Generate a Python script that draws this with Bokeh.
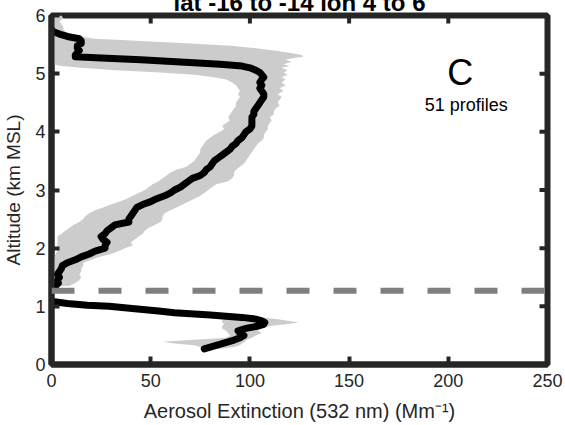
import math
from bokeh.plotting import figure
from bokeh.models import Range1d, FixedTicker, Span, Label
from bokeh.embed import file_html
from bokeh.resources import INLINE

NaN = math.nan

# ---- data ----
x_ticks = [0, 50, 100, 150, 200, 250]
y_ticks = [0, 1, 2, 3, 4, 5, 6]
title_text = "lat -16 to -14 lon 4 to 6"
panel_letter = "C"
profile_note = "51 profiles"
boundary_alt = 1.27

# upper layer (above the dashed line)
alt_upper = [6.00, 5.95, 5.90, 5.85, 5.80, 5.76, 5.72, 5.68, 5.64, 5.60, 5.56, 5.52, 5.48, 5.44,
             5.40, 5.36, 5.32, 5.29, 5.27, 5.24, 5.20, 5.16, 5.13, 5.10, 5.06, 5.02, 4.98, 4.94,
             4.90, 4.85, 4.80, 4.75, 4.70, 4.65, 4.60, 4.55, 4.50, 4.45, 4.40, 4.35, 4.30, 4.25,
             4.20, 4.15, 4.10, 4.05, 4.00, 3.95, 3.90, 3.85, 3.80, 3.75, 3.70, 3.65, 3.60, 3.55,
             3.50, 3.45, 3.40, 3.35, 3.30, 3.25, 3.20, 3.15, 3.10, 3.05, 3.00, 2.95, 2.90, 2.85,
             2.80, 2.75, 2.70, 2.65, 2.60, 2.55, 2.50, 2.45, 2.40, 2.35, 2.30, 2.25, 2.20, 2.15,
             2.10, 2.05, 2.00, 1.95, 1.90, 1.85, 1.80, 1.75, 1.70, 1.65, 1.60, 1.55, 1.50, 1.45,
             1.40, 1.35]
mean_upper = [NaN, NaN, NaN, NaN, NaN, 0, 1, 4, 8, 14, 15, 15, 13, 13,
              14, 13, 12, 12, 25, 45, 65, 85, 96, 100, 103, 105, 106, 107,
              106, 105, 106, 105, 106, 107, 107, 106, 105, 104, 103, 102, 102, 101,
              101, 101, 101, 100, 98, 97, 96, 94, 93, 91, 90, 88, 86, 84,
              82, 81, 80, 78, 77, 75, 71, 69, 67, 65, 62, 60, 57, 53,
              50, 46, 43, 42, 41, 40, 39, 39, 32, 30, 28, 27, 25, 26,
              28, 27, 27, 22, 19, 15, 12, 8, 5.5, 5, 4, 3, 4, 3,
              3.5, 2]
lo_upper = [0, 0, 0, 0, 0, 0, 0, 0, 0, 0, 0, 0, 0, 0,
            0, 0, 0, 0, 0, 0, 0.5, 1, 5, 15, 32, 55, 72, 82,
            88, 91, 93, 94, 95, 94, 95, 94, 93, 93, 92, 91, 90, 89,
            90, 88, 86, 87, 85, 82, 80, 78, 77, 76, 75, 75, 74, 73,
            72, 70, 68, 63, 60, 58, 56, 54, 51, 49, 47, 44, 41, 38,
            34, 30, 26, 22, 19, 17, 16, 14, 11, 9, 7, 5, 3, 3,
            3, 3, 3, 3, 2, 1.5, 1.5, 1, 0.5, 0.5, 0.5, 0.5, 0.5, 0.5,
            0.5, 0.5]
hi_upper = [5, 6, 4, 5, 6, 6, 7, 9, 14, 22, 45, 70, 90, 102,
            112, 120, 126, 127, 122, 118, 121, 117, 120, 116, 119, 117, 119, 116,
            118, 116, 118, 115, 117, 114, 116, 115, 114, 115, 113, 112, 112, 110,
            111, 110, 109, 109, 108, 107, 107, 106, 104, 103, 102, 101, 100, 99,
            98, 97, 95, 93, 92, 92, 91, 89, 83, 81, 79, 77, 75, 72,
            69, 66, 63, 60, 57, 56, 56, 55, 52, 49, 47, 46, 44, 42,
            40, 41, 37, 34, 30, 24, 20, 16, 16, 15, 15, 14, 15, 14,
            12, 9]

# lower layer (below the dashed line)
alt_lower = [1.08, 1.05, 1.02, 1.00, 0.96, 0.92, 0.89, 0.85, 0.81, 0.78, 0.75, 0.72, 0.69,
             0.66, 0.62, 0.58, 0.54, 0.50, 0.46, 0.42, 0.39, 0.36, 0.33, 0.30, 0.27]
mean_lower = [1.5, 8, 18, 29, 42, 54, 62, 80, 96, 103, 106, 107.5, 107,
              104, 98, 94, 95, 97, 95, 92, 89, 86, 83, 80, 77]
lo_lower = [0, 6, 16, 27, 40, 52, 60, 78, 88, 86, 86, 86, 87,
            86, 86, 88, 89, 90, 88, 70, 56, 62, 72, 75, 76]
hi_lower = [3, 10, 20, 31, 44, 56, 64, 82, 106, 114, 120, 124.5, 118,
            110, 105, 104, 106, 103, 101, 98, 97.5, 96, 95, 92, 85]

FONT = "Liberation Sans"
INK = "#262626"
X0, X1, Y0, Y1 = 0, 250, 0, 6
CUT = 14  # pixels of the canvas top that fall above the window (title is cut off there)

p = figure(width=565, height=425 + CUT, output_backend="svg", toolbar_location=None,
           x_range=Range1d(X0, X1), y_range=Range1d(Y0, Y1), title=title_text,
           min_border_left=50, min_border_right=18, min_border_top=15 + CUT,
           min_border_bottom=61)
p.styles = {"margin-top": f"-{CUT}px"}
p.title.align = "center"
p.title.text_font = FONT
p.title.text_font_size = "24px"
p.title.text_font_style = "bold"
p.title.text_color = "black"
p.title.standoff = 0
p.background_fill_color = "white"
p.border_fill_color = "white"
p.xgrid.visible = False
p.ygrid.visible = False
p.outline_line_color = INK
p.outline_line_width = 6

# bands and profiles
p.harea(y=alt_upper, x1=lo_upper, x2=hi_upper, fill_color="#cccccc")
p.harea(y=alt_lower, x1=lo_lower, x2=hi_lower, fill_color="#cccccc")
p.add_layout(Span(location=boundary_alt, dimension="width", line_color="#808080",
                  line_width=6, line_dash="23 24"))
for xs, ys in ((mean_upper, alt_upper), (mean_lower, alt_lower)):
    p.line(xs, ys, line_color="black", line_width=7, line_join="round", line_cap="round")

# inward ticks on the top and right edges of the box
p.scatter(x=x_ticks, y=[Y1] * len(x_ticks), marker="dash", angle=math.pi / 2, size=16,
          line_color=INK, line_width=4)
p.scatter(x=[X1] * len(y_ticks), y=y_ticks, marker="dash", size=16,
          line_color=INK, line_width=4)

# axes
def style_axis(ax, label_size):
    ax.axis_line_color = INK
    ax.axis_line_width = 6
    ax.major_tick_in = 8
    ax.major_tick_out = 0
    ax.major_tick_line_color = INK
    ax.major_tick_line_width = 4
    ax.minor_tick_in = 0
    ax.minor_tick_out = 0
    ax.major_label_text_font = FONT
    ax.major_label_text_color = INK
    ax.major_label_text_font_size = "18px"
    ax.axis_label_text_font = FONT
    ax.axis_label_text_font_size = label_size
    ax.axis_label_text_font_style = "normal"
    ax.axis_label_text_color = INK

xa = p.xaxis[0]
xa.ticker = FixedTicker(ticks=x_ticks)
style_axis(xa, "20px")
xa.major_label_standoff = 9
xa.axis_label = "Aerosol Extinction (532 nm) (Mm\u207b\u00b9)"
xa.axis_label_standoff = 10

ya = p.yaxis[0]
ya.ticker = FixedTicker(ticks=y_ticks)
style_axis(ya, "19px")
ya.major_label_standoff = 6
ya.axis_label = "Altitude (km MSL)"
ya.axis_label_standoff = 8

# panel texts
p.add_layout(Label(x=206, y=5.02, text=panel_letter, text_align="center",
                   text_baseline="alphabetic", text_font=FONT, text_font_size="36px",
                   text_color="black"))
p.add_layout(Label(x=209, y=4.46, text=profile_note, text_align="center",
                   text_baseline="alphabetic", text_font=FONT, text_font_size="18px",
                   text_color="black"))

open("out.html", "w").write(file_html(p, INLINE))
